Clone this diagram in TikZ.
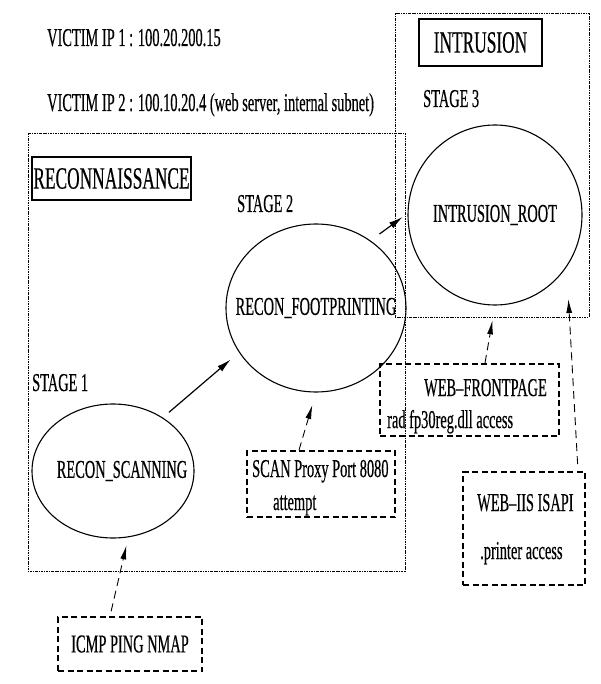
\documentclass[tikz,border=0pt]{standalone}
\usepackage{fontspec}
\setmainfont{Liberation Serif}[FakeStretch=0.56,FakeBold=0.4]
\usepackage{tikz}
\usetikzlibrary{arrows,arrows.meta,shapes,positioning}

\begin{document}
\begin{tikzpicture}[x=1pt,y=-1pt,
  every node/.style={font=\fontsize{25.7pt}{30pt}\selectfont},
  phasebox/.style={draw,line width=0.9pt,dash pattern=on 2.5pt off 1pt on 0.8pt off 1pt},
  titlebox/.style={draw,line width=1.5pt,inner sep=0pt,font=\fontsize{31pt}{36pt}\selectfont},
  stage/.style={draw,ellipse,line width=1.1pt,inner sep=0pt},
  alert/.style={draw,line width=1.8pt,dash pattern=on 6pt off 3.5pt,inner sep=0pt},
  txt/.style={anchor=base west,inner sep=0pt},
  flow/.style={line width=1.2pt,->,> = {Latex[length=14pt,width=7pt]}},
  hint/.style={line width=0.9pt,dash pattern=on 8pt off 5pt,->,> = {Latex[length=14pt,width=6pt]}}]
\useasboundingbox (0,0) rectangle (600,684);
%victim addresses
\node[txt] (ip1) at (47,46) {VICTIM IP 1 : 100.20.200.15};
\node[txt] (ip2) at (47,111) {VICTIM IP 2 : 100.10.20.4 (web server, internal subnet)};
%the two phases
\draw[phasebox] (28,133) rectangle (405,571);
\draw[phasebox] (395,13) rectangle (589,317);
\node[titlebox,minimum width=159pt,minimum height=43pt] (recon) at (111.5,178.5) {RECONNAISSANCE};
\node[titlebox,minimum width=123pt,minimum height=47pt] (intr) at (480.5,42.5) {INTRUSION};
%stages
\node[txt] (s1) at (32,391) {STAGE 1};
\node[txt] (s2) at (237,212) {STAGE 2};
\node[txt] (s3) at (423,107) {STAGE 3};
\node[stage,minimum width=162pt,minimum height=134pt] (scan) at (113,471) {\makebox[0pt]{\hspace*{18pt}RECON\_SCANNING}};
\node[stage,minimum width=180pt,minimum height=168pt] (foot) at (316,308) {\makebox[0pt]{RECON\_FOOTPRINTING}};
\node[stage,minimum width=174pt,minimum height=180pt] (root) at (495,215) {\makebox[0pt]{INTRUSION\_ROOT}};
%alerts
\node[alert,minimum width=144pt,minimum height=54pt] (icmp) at (130,644) {ICMP PING NMAP};
\node[alert,minimum width=148pt,minimum height=66pt] (proxy) at (321,484) {};
\node[txt] (proxyA) at (252,477) {SCAN Proxy Port 8080}; \node[txt] (proxyB) at (273,510) {attempt};
\node[alert,minimum width=179pt,minimum height=72pt] (fp) at (469.5,400) {};
\node[txt] (fpA) at (424,396) {WEB--FRONTPAGE}; \node[txt] (fpB) at (387,428) {rad fp30reg.dll access};
\node[alert,minimum width=122pt,minimum height=113pt] (iis) at (524,528.5) {};
\node[txt] (iisA) at (477,511) {WEB--IIS ISAPI}; \node[txt] (iisB) at (480,559) {.printer access};
%stage to stage
\draw[flow,shorten <=8pt,shorten >=11pt] (scan.47) -- (foot.210);
\draw[flow,shorten <=11pt,shorten >=6pt] (foot.51) -- (root.179);
%alert to stage
\draw[hint,shorten <=5pt,shorten >=7pt] ([xshift=-20pt]icmp.north) -- ([xshift=15pt]scan.south);
\draw[hint,shorten >=13pt] ([xshift=-22pt]proxy.north) -- (foot.south);
\draw[hint,shorten >=15pt] ([xshift=15.5pt]fp.north) -- (root.south);
\draw[hint,shorten <=7pt,shorten >=32pt] ([xshift=54pt]iis.north) -- (root.324);
\end{tikzpicture}
\end{document}
